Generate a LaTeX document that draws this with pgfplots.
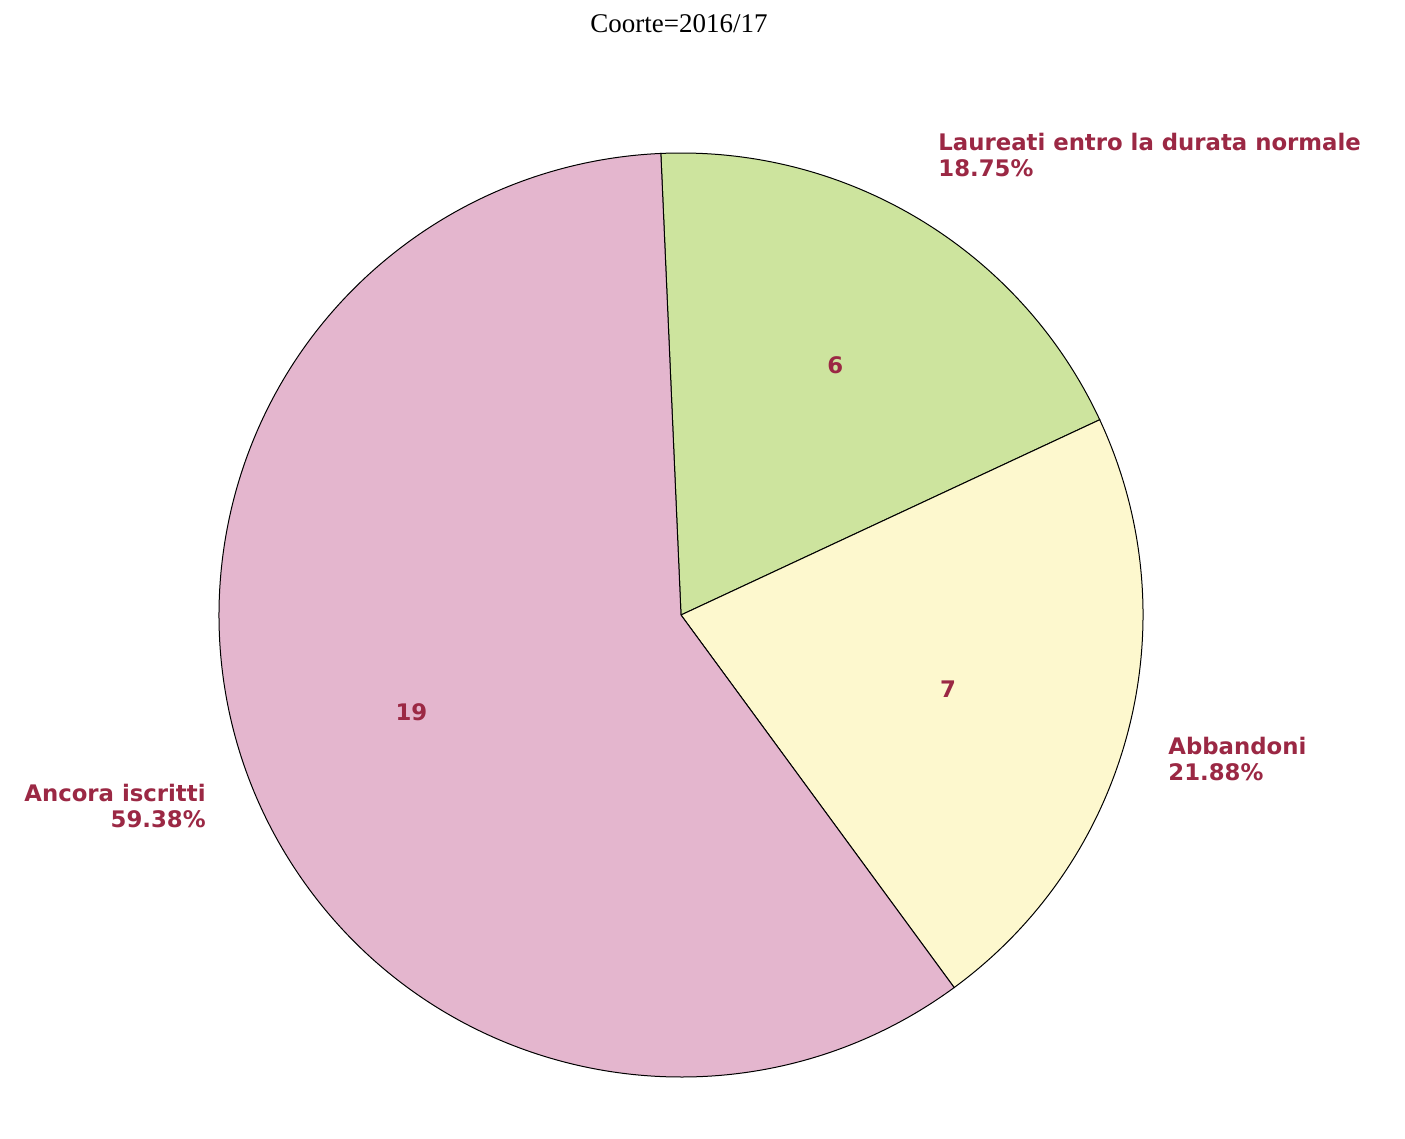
\documentclass[border=0pt]{standalone}
\usepackage{pgfplots}
\pgfplotsset{compat=1.18}
\usetikzlibrary{calc}
\usepackage{fontspec}
\setmainfont{Liberation Serif}
\newfontfamily\lblfont{DejaVu Sans}
\definecolor{cGreen}{RGB}{205,228,158}
\definecolor{cYellow}{RGB}{253,248,206}
\definecolor{cPink}{RGB}{228,182,206}
\definecolor{cText}{RGB}{155,40,68}

% slice values (clockwise from the top)
\def\vA{6}   % Laureati entro la durata normale
\def\vB{7}   % Abbandoni
\def\vC{19}  % Ancora iscritti
\pgfmathsetmacro\tot{\vA+\vB+\vC}
\pgfmathsetmacro\aS{92.5}
\pgfmathsetmacro\aA{\aS-360*\vA/\tot}
\pgfmathsetmacro\aB{\aA-360*\vB/\tot}
\pgfmathsetmacro\aC{\aB-360*\vC/\tot}
\pgfmathsetmacro\mA{(\aS+\aA)/2}
\pgfmathsetmacro\mB{(\aA+\aB)/2}
\pgfmathsetmacro\mC{(\aB+\aC)/2}
\def\R{231pt}

\begin{document}
\begin{tikzpicture}
\begin{axis}[
    width=702.5pt, height=539.5pt,
    scale only axis,
    xmin=0, xmax=1405, ymin=0, ymax=1079,
    hide axis,
    clip=false,
]
\path (axis cs:0,0) rectangle (axis cs:1405,1079);
\coordinate (C) at (axis cs:681,464);
\filldraw[fill=cGreen, draw=black, line width=0.5pt]
    (C) -- ++(\aS:\R) arc[start angle=\aS, end angle=\aA, radius=\R] -- cycle;
\filldraw[fill=cYellow, draw=black, line width=0.5pt]
    (C) -- ++(\aA:\R) arc[start angle=\aA, end angle=\aB, radius=\R] -- cycle;
\filldraw[fill=cPink, draw=black, line width=0.5pt]
    (C) -- ++(\aB:\R) arc[start angle=\aB, end angle=\aC, radius=\R] -- cycle;

\begin{scope}[every node/.style={font=\lblfont\bfseries\fontsize{11.4}{13}\selectfont, text=cText, inner sep=0pt}]
\node at ($(C)+(\mA-0.5:0.635*\R)$) {\vA};
\node at ($(C)+(\mB-1.2:0.60*\R)$) {\vB};
\node at ($(C)+(\mC+0.4:0.62*\R)$) {\vC};
\node[anchor=west, align=left] at (axis cs:938,924) {Laureati entro la durata normale\\18.75\%};
\node[anchor=west, align=left] at (axis cs:1168,320) {Abbandoni\\21.88\%};
\node[anchor=east, align=right] at (axis cs:206,273) {Ancora iscritti\\59.38\%};
\end{scope}
\node[font=\fontsize{13.5}{16}\selectfont] at (axis cs:679,1055) {Coorte=2016/17};
\end{axis}
\end{tikzpicture}
\end{document}
